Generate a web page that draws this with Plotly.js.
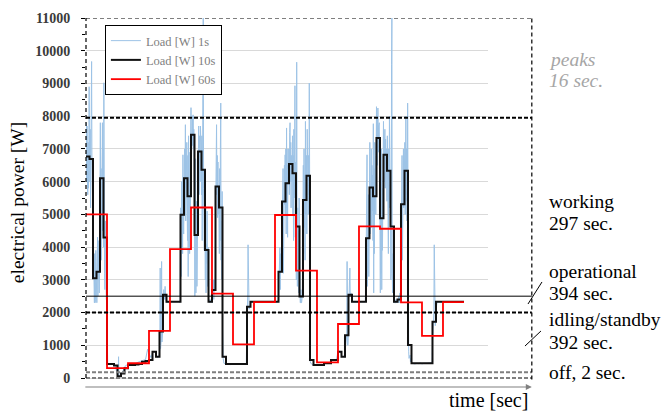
<!DOCTYPE html>
<html><head><meta charset="utf-8">
<script src="https://cdn.plot.ly/plotly-3.0.1.min.js"></script>
<style>html,body{margin:0;padding:0;background:#fff;}#chart{width:666px;height:412px;}</style>
</head><body><div id="chart"></div>
<script>
// ---- series names
const seriesNames = ["Load [W] 1s", "Load [W] 10s", "Load [W] 60s"];

// ---- 10 s averages (one value per 10 s, t = 0 .. 1070)
const load10s = [
 6770,6690,3050,3250,6100,4290,430,430,380,50,
 140,300,400,400,410,430,500,520,550,800,
 650,1420,2540,2330,2330,2330,2330,4985,6100,5550,
 7430,4370,6920,6360,3910,2330,2690,5850,5210,650,
 430,430,430,430,430,430,2180,2330,2330,2330,
 2330,2330,2330,2330,2330,3250,5390,5950,6540,6260,
 4630,2490,5440,6180,550,400,400,400,450,450,
 550,550,800,650,1310,2540,2330,2330,2330,2330,
 4270,5820,5550,7330,4880,6820,6330,4630,2330,2400,
 5310,6330,1010,450,450,450,450,450,450,1720,
 2330,2330,2330,2330,2330,2330,2330,2330
];

// ---- 60 s averages (one value per 60 s)
const load60s = [5000,300,450,1440,3940,5210,2580,1030,2320,4980,3280,480,1650,4630,4560,2310,1290,2320];

// ---- 1 s load: busy bursts (1 s samples from the given start second)
const burstStarts = [0, 266, 550, 800];
const burstA = [
 7500,7800,6000,7700,6200,5600,7200,5800,6400,8900,
 6800,6000,7600,5200,6700,7800,9670,6500,5800,4800,
 4200,3200,2330,2300,2300,3800,2300,2400,3900,3000,
 2300,2300,3400,4300,2500,3000,3300,4200,2600,4000,
 5300,7800,5800,6400,3600,7700,5900,7800,4500,7000,
 4000,9020,6000,3200,2700,4800,3000,2600,2400,2500,
 450];
const burstB = [
 2300,2300,2300,2400,
 4000,5200,3100,6000,4200,5600,3800,6820,5000,4400,
 6100,5000,7000,5800,7740,4800,6600,5400,7200,5400,
 4200,6800,3100,7400,5300,6200,3800,6900,5200,7300,
 8260,6500,7900,6800,8000,7100,8040,7000,7600,7000,
 5200,2500,4800,6700,2600,4200,5400,2800,3700,5800,
 7200,6300,7700,5600,7400,6900,6000,7700,7300,7100,
 5600,7400,4200,6000,9570,11000,5800,4500,3900,5600,
 4800,3000,5200,2600,4100,3500,5100,2800,4000,4000,
 2400,2300,2300,2300,2400,2300,2300,2300,2400,2300,
 2300,2400,2600,2500,3000,2400,2800,3000,2700,2900,
 4500,6400,5200,7740,5600,6800,4900,6600,5000,5700,
 5200,3800,6400,4200,7000,8400,3600,4800,3000,5700,
 1500,700,600];
const burstC = [
 2400,2900,3600,3100,3980,2700,3800,3300,3400,3300,
 4200,6000,4600,6400,3200,5900,4800,6500,5300,6820,
 5000,7000,4400,7640,5200,6500,4300,7000,6200,6300,
 7000,5600,7500,7800,6000,7200,5200,6800,6300,6000,
 7400,5000,6800,4200,7600,5500,6200,8930,4300,6600,
 5000,3000,9650,4800,2800,5200,3200,4500,2600,5500,
 2400,2300,2300,2300,2700,2300,2300,2400,2500,3400,
 4200,6500,3800,7000,4600,6200,3600,7840,5000,5700,
 6800,4400,7600,5200,7200,5000,6800,5600,9010,4200,
 1200,500,450];
const burstD = [
 3200,5200,3600,6820,2800,4900,3400,5600,3100,4100,
 5000,7200,4400,6900,5300,7000,4600,6500,5100,6200,
 4200,7770,2600,6400,3800,7200,4400,6800,5000,7300,
 8290,6800,7900,6500,8250,6900,7700,6600,7800,6600,
 5600,2600,6000,3200,7000,2700,5800,3900,6400,5600,
 7840,6000,7400,6300,7600,5800,7300,6600,7000,6400,
 5400,7400,4500,7200,3800,7000,5200,8000,7100,7700,
 5000,3000,3200,9570,11000,3200,2600,3800,2400,2500,
 2300,2300,2400,2300,2300,2300,2400,2300,2300,2400,
 2300,2400,2300,2500,2400,2300,2400,2600,2400,2500,
 3800,6200,4100,6800,3600,6000,4400,7000,5200,6000,
 5600,7200,5000,6800,8000,5400,7000,4800,5100,8400,
 2600,1500,800,600,700,600,700,500,600,500];

// ---- 1 s load: quiet stretches (time in s, value in W)
const quietT = [
 62,66,70,74,78,82,85,88,90,92,93,94,97,100,103,106,109,113,118,124,130,136,142,148,154,160,166,170,173,176,179,182,186,190,194,198,201,205,209,211,212,213,215,216,217,219,220,222,224,226,228,231,240,250,258,265,
 394,398,403,408,413,418,423,428,433,438,443,448,453,458,460,461,462,463,464,466,468,470,480,490,500,510,520,530,540,548,
 645,650,655,660,665,670,675,680,685,690,695,700,705,710,715,720,725,729,731,735,739,741,743,745,746,747,748,749,750,752,754,755,757,759,761,770,780,790,798,
 932,936,940,945,950,955,960,965,970,975,980,985,989,990,992,994,995,996,998,1000,1003,1006,1020,1040,1060,1080];
const quietV = [
 430,440,420,430,410,380,300,150,60,30,650,40,20,90,150,250,320,380,400,410,400,420,440,480,510,530,550,560,760,880,770,690,620,780,820,800,650,620,700,900,3360,900,1200,3560,1100,1400,2500,2700,2400,2800,2400,2300,2330,2320,2330,2330,
 450,430,420,440,410,430,420,440,430,420,440,430,420,430,1800,2200,2500,4070,2300,2100,2200,2300,2330,2320,2330,2330,2320,2330,2330,2330,
 420,390,400,380,400,410,400,440,450,460,450,540,560,550,540,800,820,780,650,660,640,900,1200,1300,3560,1400,1000,1200,2400,2600,3360,2500,2600,2500,2330,2320,2330,2330,2330,
 450,440,430,450,440,460,430,450,440,450,460,450,460,1200,1700,2000,4070,1800,1600,2100,2300,2330,2320,2330,2330,2330];

// ---- right-hand state labels
const stateLabels = [
 ["peaks", "16 sec."],
 ["working", "297 sec."],
 ["operational", "394 sec."],
 ["idling/standby", "392 sec."],
 ["off, 2 sec."]
];

// ---------- build traces ----------
const pts = [];
[burstA, burstB, burstC, burstD].forEach((b, k) => b.forEach((v, i) => pts.push([burstStarts[k] + i, v])));
quietT.forEach((t, i) => pts.push([t, quietV[i]]));
pts.sort((a, b) => a[0] - b[0]);
const blueX = pts.map(p => p[0]), blueY = pts.map(p => p[1]);

const x10 = load10s.map((v, i) => i * 10).concat([load10s.length * 10]);
const y10 = load10s.concat([load10s[load10s.length - 1]]);
const x60 = load60s.map((v, i) => i * 60).concat([load60s.length * 60]);
const y60 = load60s.concat([load60s[load60s.length - 1]]);

const traces = [
 {x: blueX, y: blueY, name: seriesNames[0], type: 'scatter', mode: 'lines', line: {color: '#9dc3e6', width: 1}},
 {x: x10, y: y10, name: seriesNames[1], type: 'scatter', mode: 'lines', line: {color: '#111111', width: 2, shape: 'hv'}},
 {x: x60, y: y60, name: seriesNames[2], type: 'scatter', mode: 'lines', line: {color: '#ff0000', width: 1.8, shape: 'hv'}}
];

const XR = 1.109; // right edge of the framed area (paper)
const serif = 'Liberation Serif, Times New Roman, serif';
function hline(y, color, width, dash) {
 return {type: 'line', xref: 'paper', yref: 'y', x0: 0, x1: XR, y0: y, y1: y, line: {color: color, width: width, dash: dash}};
}
const shapes = [
 hline(11000, '#000', 1.2, '4px,3px'),
 hline(7950, '#000', 2, '4px,2px'),
 hline(2500, '#000', 1, 'solid'),
 hline(2000, '#000', 2, '4px,2px'),
 hline(175, '#7f7f7f', 2, '4px,2px'),
 hline(0, '#7f7f7f', 2, '4px,2px'),
 {type: 'line', xref: 'paper', yref: 'y', x0: 0, x1: 0, y0: 0, y1: 11000, line: {color: '#000', width: 1.2, dash: '4px,3px'}},
 {type: 'line', xref: 'paper', yref: 'paper', x0: XR, x1: XR, y0: 0.02, y1: 1, line: {color: '#000', width: 1.2, dash: '4px,3px'}},
 {type: 'line', xref: 'paper', yref: 'paper', x0: 1.0995, x1: 1.1343, y0: 0.2249, y1: 0.2846, line: {color: '#000', width: 1}},
 {type: 'line', xref: 'paper', yref: 'paper', x0: 1.092, x1: 1.1318, y0: 0.111, y1: 0.1518, line: {color: '#000', width: 1}}
];

const labelY = [[0.8862, 0.8293], [0.5027, 0.4444], [0.313, 0.2547], [0.1816, 0.1206], [0.0388]];
const annotations = [];
stateLabels.forEach((lines, k) => lines.forEach((txt, j) => {
 const peak = k === 0;
 annotations.push({xref: 'paper', yref: 'paper', x: 1.1468, y: labelY[k][j], xanchor: 'left', yanchor: 'middle',
  text: txt, showarrow: false,
  font: {family: serif, size: 19.5, color: peak ? '#a6a6a6' : '#000', style: peak ? 'italic' : 'normal'}});
}));
annotations.push({xref: 'paper', yref: 'paper', x: 1.1045, y: -0.035, xanchor: 'right', yanchor: 'middle',
 text: 'time [sec]', showarrow: false, font: {family: serif, size: 20, color: '#000'}});
annotations.push({xref: 'paper', yref: 'paper', x: XR, y: 0, ax: -448, ay: 0, text: '', showarrow: true,
 arrowhead: 2, arrowsize: 1, arrowwidth: 1.2, arrowcolor: '#808080', standoff: 0});

const layout = {
 width: 666, height: 412,
 margin: {l: 86, r: 178, t: 18, b: 25, pad: 0},
 paper_bgcolor: '#fff', plot_bgcolor: '#fff',
 showlegend: true,
 legend: {x: 0.047, y: 0.981, xanchor: 'left', yanchor: 'top', bgcolor: '#fff', bordercolor: '#000', borderwidth: 1,
  font: {family: serif, size: 12.5, color: '#7f7f7f'}, tracegroupgap: 0, itemwidth: 30},
 xaxis: {range: [0, 1148.6], showticklabels: false, showgrid: false, zeroline: false, showline: false, ticks: ''},
 yaxis: {range: [-275, 11000], tick0: 0, dtick: 1000, tickformat: 'd', showgrid: true, gridcolor: '#d9d9d9', gridwidth: 1,
  zeroline: false, showline: false, ticks: 'outside', ticklen: 4, tickcolor: '#000', ticklabelstandoff: 8,
  minor: {dtick: 500, ticks: 'outside', ticklen: 3, tickcolor: '#000', showgrid: false},
  tickfont: {family: serif, size: 14, color: '#3a3a3a', weight: 700},
  title: {text: 'electrical power [W]', font: {family: serif, size: 19.5, color: '#000'}, standoff: 5}},
 shapes: shapes,
 annotations: annotations
};
Plotly.newPlot('chart', traces, layout, {displayModeBar: false, staticPlot: true});
</script></body></html>
